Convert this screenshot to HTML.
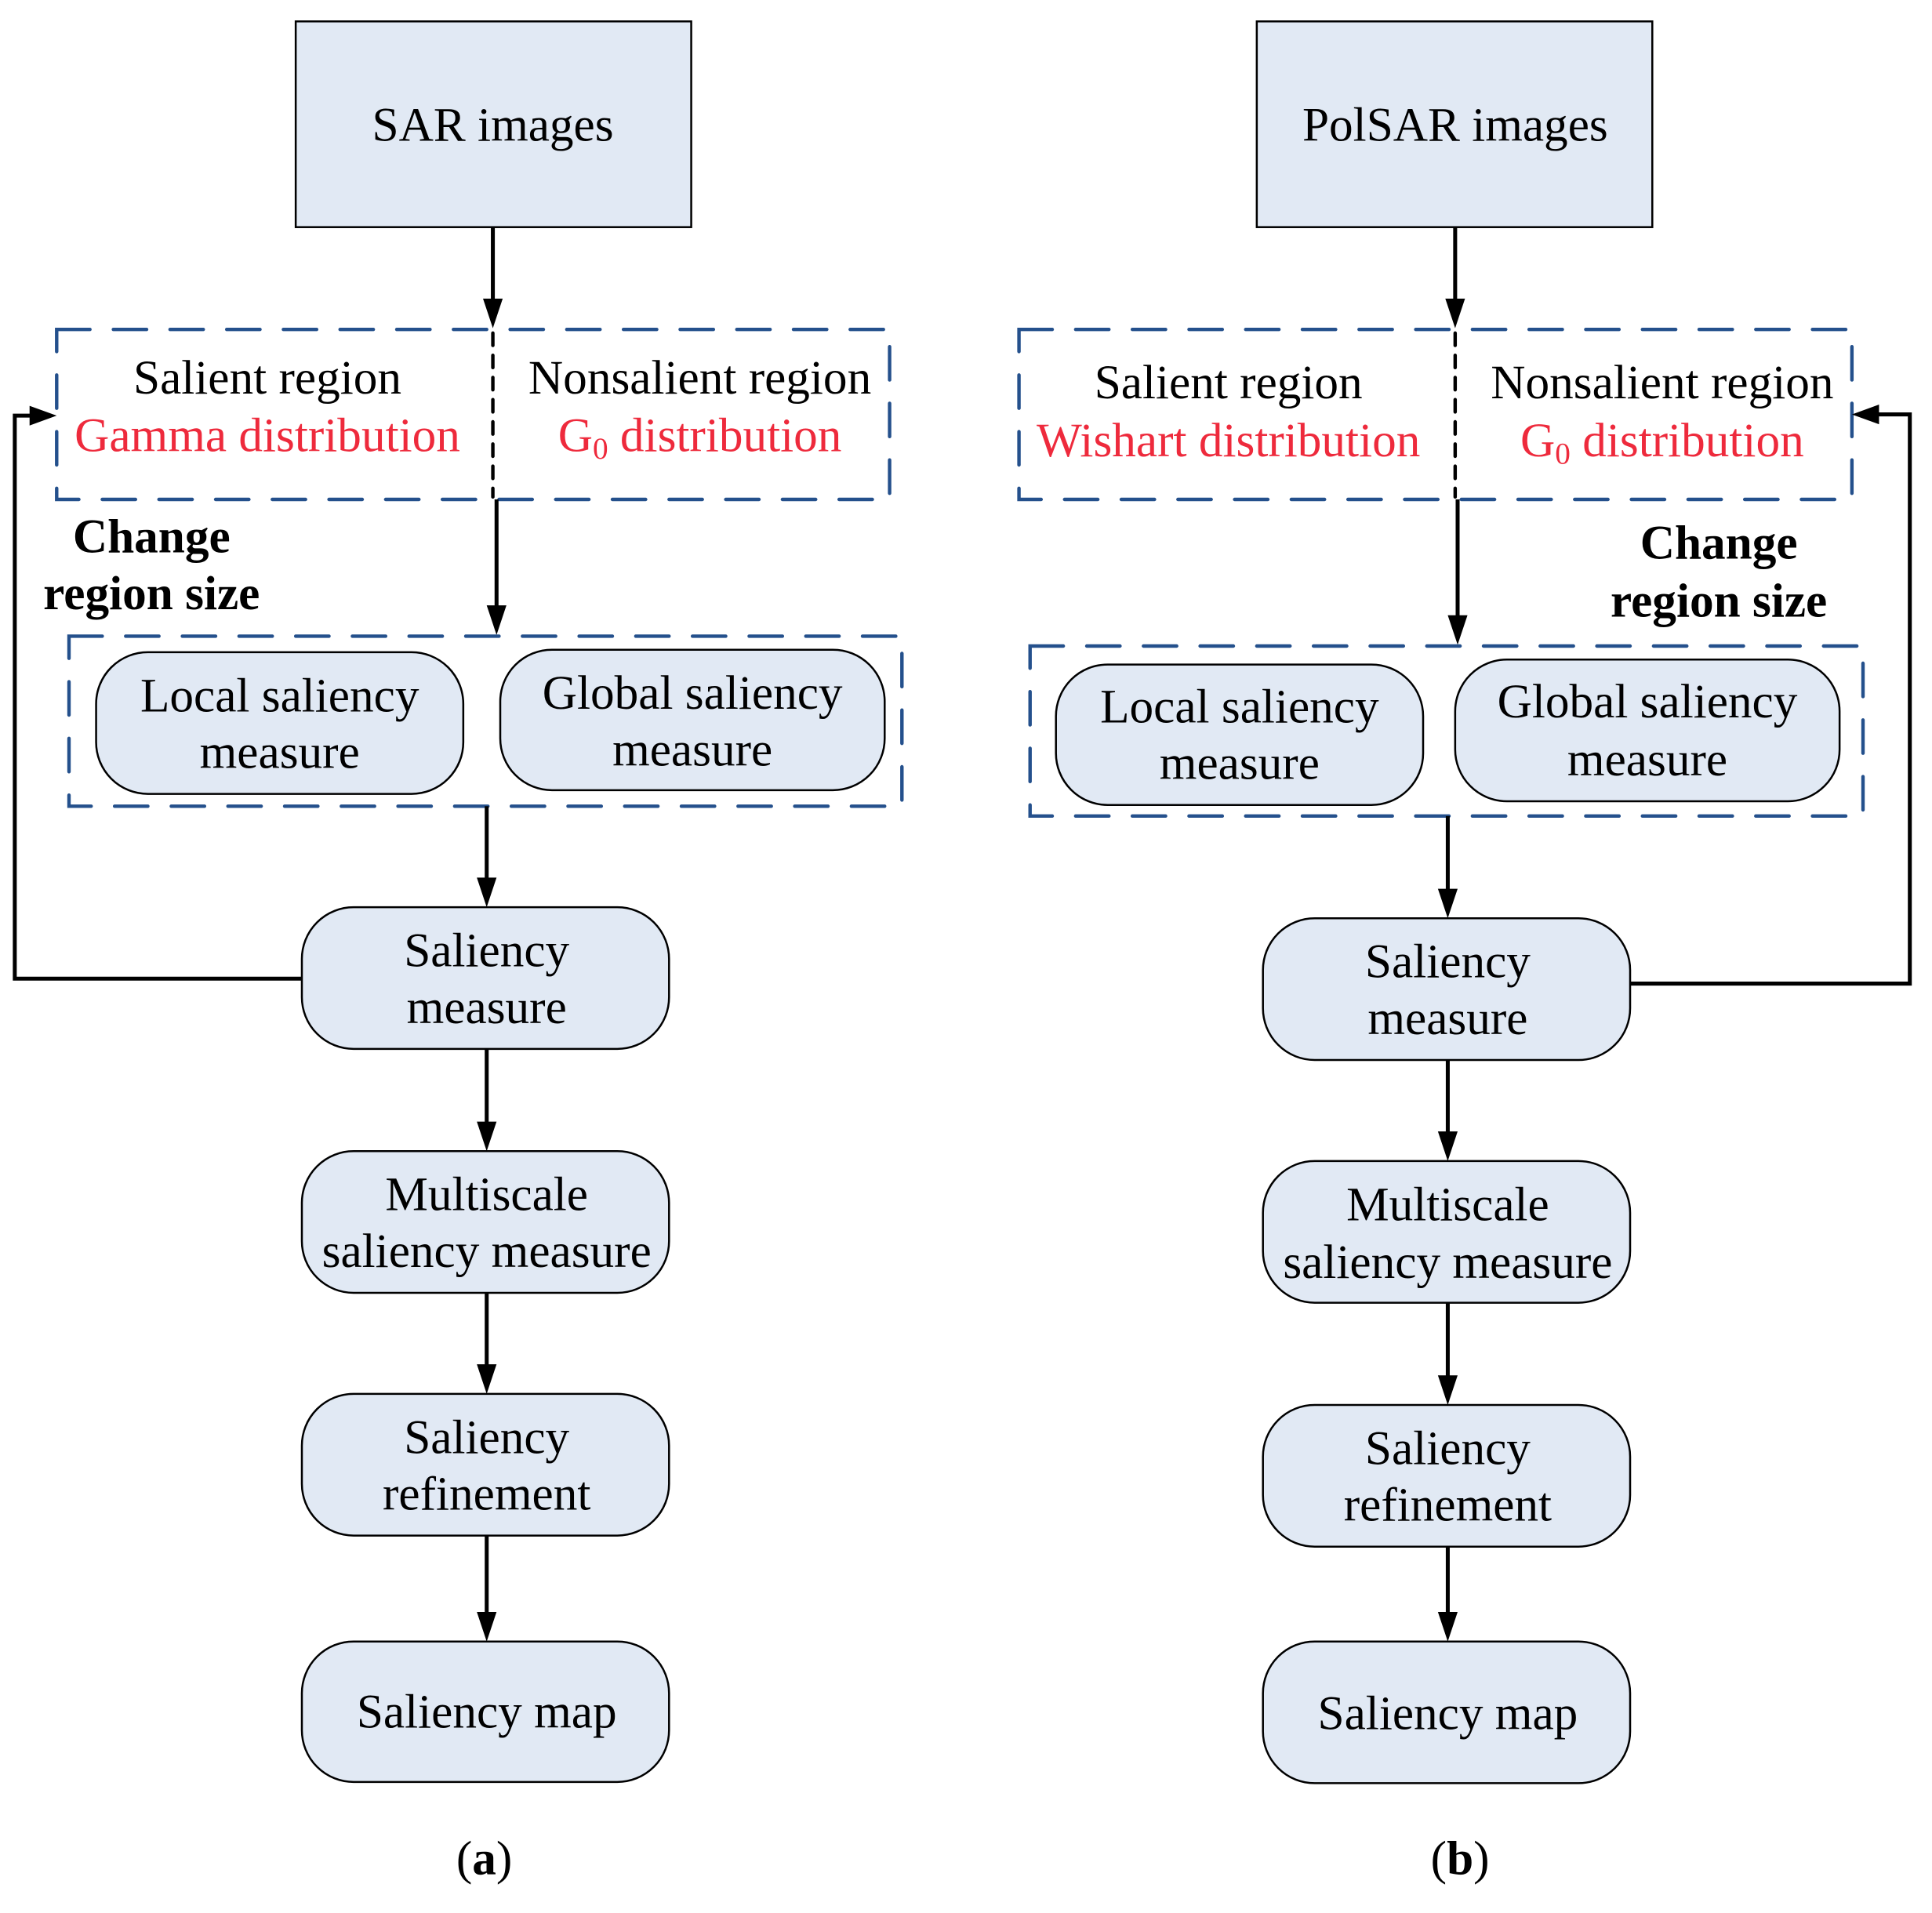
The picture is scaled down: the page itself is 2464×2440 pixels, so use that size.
<!DOCTYPE html>
<html><head><meta charset="utf-8"><style>
html,body{margin:0;padding:0;background:#fff;}
svg{display:block;}
text{font-family:"Liberation Serif","Times New Roman",serif;font-size:39px;fill:#000;}
.r{fill:#ee2a3c;}
.b{font-weight:bold;}
.box{fill:#e1e9f4;stroke:#000;stroke-width:1.6;}
.dash{fill:none;stroke:#24508c;stroke-width:2.8;stroke-dasharray:27 19;stroke-linecap:round;}
.ln{stroke:#000;stroke-width:3.2;fill:none;}
</style></head><body>
<svg width="2464" height="2440" viewBox="0 0 1568 1552" xmlns="http://www.w3.org/2000/svg">
<g text-anchor="middle">
<!-- LEFT -->
<rect class="box" x="240" y="17" width="321" height="167"/>
<text x="400" y="114">SAR images</text>
<line class="ln" x1="400" y1="184" x2="400" y2="244"/>
<polygon points="392,242 408,242 400,266"/>
<rect class="dash" x="46" y="267" width="676" height="138"/>
<line x1="400" y1="270" x2="400" y2="403" stroke="#000" stroke-width="2.8" stroke-dasharray="10 8" stroke-linecap="round"/>
<text x="217" y="319">Salient region</text>
<text class="r" x="217" y="366">Gamma distribution</text>
<text x="568" y="319">Nonsalient region</text>
<text class="r" x="568" y="366">G<tspan font-size="25" dy="6">0</tspan><tspan dy="-6"> distribution</tspan></text>
<line class="ln" x1="403" y1="405" x2="403" y2="493"/>
<polygon points="395,491 411,491 403,515"/>
<text class="b" x="123" y="448">Change</text>
<text class="b" x="123" y="494">region size</text>
<rect class="dash" x="56" y="516" width="676" height="138"/>
<rect class="box" x="78" y="529" width="298" height="115" rx="42"/>
<text x="227" y="577">Local saliency</text><text x="227" y="623">measure</text>
<rect class="box" x="406" y="527" width="312" height="114" rx="42"/>
<text x="562" y="575">Global saliency</text><text x="562" y="621">measure</text>
<line class="ln" x1="395" y1="654" x2="395" y2="714"/>
<polygon points="387,712 403,712 395,736"/>
<rect class="box" x="245" y="736" width="298" height="115" rx="42"/>
<text x="395" y="784">Saliency</text><text x="395" y="830">measure</text>
<line class="ln" x1="395" y1="851" x2="395" y2="912"/>
<polygon points="387,910 403,910 395,934"/>
<rect class="box" x="245" y="934" width="298" height="115" rx="42"/>
<text x="395" y="982">Multiscale</text><text x="395" y="1028">saliency measure</text>
<line class="ln" x1="395" y1="1049" x2="395" y2="1109"/>
<polygon points="387,1107 403,1107 395,1131"/>
<rect class="box" x="245" y="1131" width="298" height="115" rx="42"/>
<text x="395" y="1179">Saliency</text><text x="395" y="1225">refinement</text>
<line class="ln" x1="395" y1="1246" x2="395" y2="1310"/>
<polygon points="387,1308 403,1308 395,1332"/>
<rect class="box" x="245" y="1332" width="298" height="114" rx="42"/>
<text x="395" y="1402">Saliency map</text>
<polyline class="ln" points="245,794 12,794 12,337 26,337"/>
<polygon points="24,329 24,345 46,337"/>
<text x="393" y="1521" font-size="58">(<tspan font-weight="bold">a</tspan>)</text>

<!-- RIGHT -->
<rect class="box" x="1020" y="17" width="321" height="167"/>
<text x="1181" y="114">PolSAR images</text>
<line class="ln" x1="1181" y1="184" x2="1181" y2="244"/>
<polygon points="1173,242 1189,242 1181,266"/>
<rect class="dash" x="827" y="267" width="676" height="138"/>
<line x1="1181" y1="270" x2="1181" y2="403" stroke="#000" stroke-width="2.8" stroke-dasharray="10 8" stroke-linecap="round"/>
<text x="997" y="323">Salient region</text>
<text class="r" x="997" y="370">Wishart distribution</text>
<text x="1349" y="323">Nonsalient region</text>
<text class="r" x="1349" y="370">G<tspan font-size="25" dy="6">0</tspan><tspan dy="-6"> distribution</tspan></text>
<line class="ln" x1="1183" y1="405" x2="1183" y2="501"/>
<polygon points="1175,499 1191,499 1183,523"/>
<text class="b" x="1395" y="453">Change</text>
<text class="b" x="1395" y="500">region size</text>
<rect class="dash" x="836" y="524" width="676" height="138"/>
<rect class="box" x="857" y="539" width="298" height="114" rx="42"/>
<text x="1006" y="586">Local saliency</text><text x="1006" y="632">measure</text>
<rect class="box" x="1181" y="535" width="312" height="115" rx="42"/>
<text x="1337" y="582">Global saliency</text><text x="1337" y="629">measure</text>
<line class="ln" x1="1175" y1="662" x2="1175" y2="723"/>
<polygon points="1167,721 1183,721 1175,745"/>
<rect class="box" x="1025" y="745" width="298" height="115" rx="42"/>
<text x="1175" y="793">Saliency</text><text x="1175" y="839">measure</text>
<line class="ln" x1="1175" y1="860" x2="1175" y2="920"/>
<polygon points="1167,918 1183,918 1175,942"/>
<rect class="box" x="1025" y="942" width="298" height="115" rx="42"/>
<text x="1175" y="990">Multiscale</text><text x="1175" y="1037">saliency measure</text>
<line class="ln" x1="1175" y1="1057" x2="1175" y2="1118"/>
<polygon points="1167,1116 1183,1116 1175,1140"/>
<rect class="box" x="1025" y="1140" width="298" height="115" rx="42"/>
<text x="1175" y="1188">Saliency</text><text x="1175" y="1234">refinement</text>
<line class="ln" x1="1175" y1="1255" x2="1175" y2="1310"/>
<polygon points="1167,1308 1183,1308 1175,1332"/>
<rect class="box" x="1025" y="1332" width="298" height="115" rx="42"/>
<text x="1175" y="1403">Saliency map</text>
<polyline class="ln" points="1323,798 1550,798 1550,336 1523,336"/>
<polygon points="1525,328 1525,344 1503,336"/>
<text x="1185" y="1521" font-size="58">(<tspan font-weight="bold">b</tspan>)</text>
</g>
</svg>
</body></html>
